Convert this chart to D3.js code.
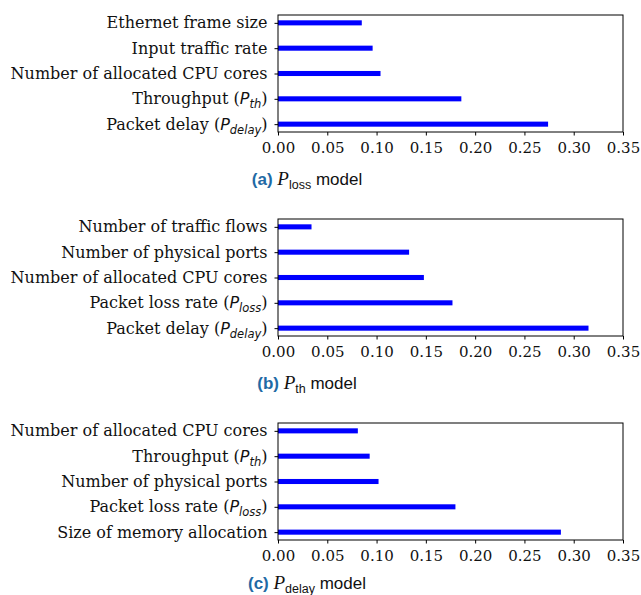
<!DOCTYPE html>
<html>
<head>
<meta charset="utf-8">
<script src="https://cdn.jsdelivr.net/npm/d3@7"></script>
<style>
  body { margin: 0; background: white; }
  svg { display: block; }
</style>
</head>
<body>
<div id="chart"></div>
<script>
const width = 641;
const height = 595;

// feature labels, listed bottom to top as in the plot
const lossLabels = ["Packet delay (P_delay)", "Throughput (P_th)", "Number of allocated CPU cores",
                    "Input traffic rate", "Ethernet frame size"];
const lossValues = [0.274, 0.186, 0.104, 0.096, 0.085];

const thLabels = ["Packet delay (P_delay)", "Packet loss rate (P_loss)", "Number of allocated CPU cores",
                  "Number of physical ports", "Number of traffic flows"];
const thValues = [0.315, 0.177, 0.148, 0.133, 0.034];

const delayLabels = ["Size of memory allocation", "Packet loss rate (P_loss)", "Number of physical ports",
                     "Throughput (P_th)", "Number of allocated CPU cores"];
const delayValues = [0.287, 0.180, 0.102, 0.093, 0.081];

const xTicks = [0, 0.05, 0.10, 0.15, 0.20, 0.25, 0.30, 0.35];

const panels = [
    {tag: "(a)", sub: "loss", labels: lossLabels, values: lossValues},
    {tag: "(b)", sub: "th", labels: thLabels, values: thValues},
    {tag: "(c)", sub: "delay", labels: delayLabels, values: delayValues}
];

const svg = d3.select("#chart")
    .append("svg")
    .attr("width", width)
    .attr("height", height);

const left = 278, right = 623;
const boxH = 117;
const step = 204;
const serif = "'DejaVu Serif', serif";

const x = d3.scaleLinear().domain([0, 0.35]).range([left, right]);

// writes "text (P_sub)" with a mathtext-like italic P and subscript
function writeLabel(sel, label) {
    const m = label.match(/^(.*\()P_(\w+)(\))$/);
    if (!m) { sel.text(label); return; }
    sel.append("tspan").text(m[1]);
    sel.append("tspan").text("P")
        .style("font-family", "'DejaVu Sans', sans-serif")
        .style("font-style", "italic");
    sel.append("tspan").text(m[2])
        .attr("dy", 4)
        .style("font-family", "'DejaVu Sans', sans-serif")
        .style("font-style", "italic")
        .style("font-size", "11.5px");
    sel.append("tspan").text(m[3]).attr("dy", -4);
}

panels.forEach((p, i) => {
    const top = 15 + i * step;
    const bottom = top + boxH;
    const y = d3.scaleLinear().domain([-0.31, 4.31]).range([bottom, top]);
    const g = svg.append("g");

    // bars
    g.selectAll("rect.bar")
        .data(p.values)
        .join("rect")
        .attr("class", "bar")
        .attr("x", x(0))
        .attr("y", (d, j) => y(j + 0.1))
        .attr("width", d => x(d) - x(0))
        .attr("height", (d, j) => y(j - 0.1) - y(j + 0.1))
        .attr("fill", "#0000ff");

    // frame
    g.append("rect")
        .attr("x", left).attr("y", top)
        .attr("width", right - left).attr("height", bottom - top)
        .attr("fill", "none").attr("stroke", "black").attr("stroke-width", 1);

    // x axis
    const xAxis = g.append("g")
        .attr("transform", `translate(0,${bottom})`)
        .call(d3.axisBottom(x).tickValues(xTicks).tickSize(3.5).tickPadding(7)
            .tickFormat(d3.format(".2f")));
    xAxis.select(".domain").remove();
    xAxis.selectAll("text").style("font-family", serif).style("font-size", "15px").attr("fill", "#111");

    // y axis
    const yAxis = g.append("g")
        .attr("transform", `translate(${left},0)`)
        .call(d3.axisLeft(y).tickValues(d3.range(p.labels.length)).tickSize(3.5).tickPadding(7)
            .tickFormat(() => ""));
    yAxis.select(".domain").remove();
    yAxis.selectAll("text")
        .style("font-family", serif).style("font-size", "16px").attr("fill", "#111")
        .each(function(d) { writeLabel(d3.select(this), p.labels[d]); });

    // caption
    const cap = svg.append("text")
        .attr("x", 307)
        .attr("y", Math.min(top + 170, 589))
        .attr("text-anchor", "middle")
        .style("font-family", "'Liberation Sans', Arial, sans-serif")
        .style("font-size", "17px")
        .attr("fill", "#111");
    cap.append("tspan").text(p.tag + " ")
        .attr("fill", "#1f6aa5").style("font-weight", "bold");
    cap.append("tspan").text("P")
        .style("font-family", "'Liberation Serif', serif").style("font-style", "italic").style("font-size", "19px");
    cap.append("tspan").text(p.sub).attr("dy", 3.5).style("font-size", "12.5px");
    cap.append("tspan").text(" model").attr("dy", -3.5);
});
</script>
</body>
</html>
